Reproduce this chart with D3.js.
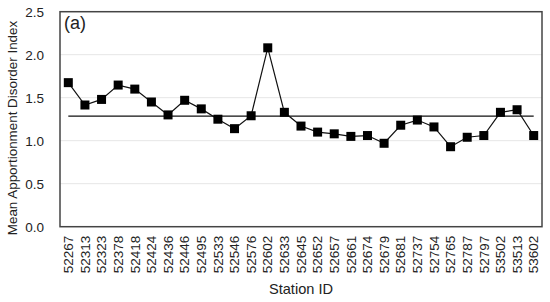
<!DOCTYPE html>
<meta charset="utf-8">
<head>
	<style type="text/css">
		body { margin: 0; background: #fff; }
		text { font-family: "Liberation Sans", Arial, sans-serif; fill: #222; }
	</style>
	<title>Mean Apportionment Disorder Index</title>
</head>

<script src="https://cdn.jsdelivr.net/npm/d3@7"></script>

<svg width="550" height="302" id="svg1"></svg>

<script>
	// station ids along the x axis
	const stations = ['52267','52313','52323','52378','52418','52424','52436','52446','52495','52533',
		'52546','52576','52602','52633','52645','52652','52657','52661','52674','52679',
		'52681','52737','52754','52765','52787','52797','53502','53513','53602'];
	// mean apportionment disorder index per station
	const madi = [1.675,1.415,1.48,1.647,1.60,1.45,1.30,1.47,1.37,1.25,
		1.14,1.29,2.08,1.33,1.17,1.10,1.08,1.05,1.06,0.97,
		1.18,1.24,1.16,0.93,1.04,1.06,1.33,1.36,1.06];
	const yTicks = [0, 0.5, 1.0, 1.5, 2.0, 2.5];

	const svg1 = d3.select('#svg1');
	const plotL = 60, plotR = 542, plotT = 11.7, plotB = 226.7;

	const x = d3.scaleBand().domain(stations).range([plotL, plotR]);
	const y = d3.scaleLinear().domain([0, 2.5]).range([plotB, plotT]);
	const cx = d => x(d) + x.bandwidth() / 2;

	// gridlines
	svg1.append('g')
		.selectAll('line')
		.data(yTicks.filter(t => t > 0 && t < 2.5))
		.enter().append('line')
			.attr('x1', plotL).attr('x2', plotR)
			.attr('y1', d => y(d)).attr('y2', d => y(d))
			.attr('stroke', '#e6e6e6').attr('stroke-width', 1);

	// y axis labels
	const yAxis = svg1.append('g')
		.attr('transform', `translate(${plotL},0)`)
		.call(d3.axisLeft(y).tickValues(yTicks).tickFormat(d3.format('.1f')).tickSize(0).tickPadding(16));
	yAxis.select('.domain').remove();
	yAxis.selectAll('text').style('font-size', '13.5px').attr('fill', '#222');

	// x axis labels, rotated
	const xAxis = svg1.append('g')
		.attr('transform', `translate(0,${plotB})`)
		.call(d3.axisBottom(x).tickSize(0));
	xAxis.select('.domain').remove();
	xAxis.selectAll('text')
		.style('font-size', '13.5px')
		.attr('fill', '#222')
		.attr('transform', 'rotate(-90)')
		.attr('text-anchor', 'end')
		.attr('x', -9)
		.attr('y', 0)
		.attr('dy', '0.35em');

	// mean line
	const mean = d3.mean(madi);
	svg1.append('line')
		.attr('x1', cx(stations[0])).attr('x2', cx(stations[stations.length - 1]))
		.attr('y1', y(mean)).attr('y2', y(mean))
		.attr('stroke', '#111').attr('stroke-width', 1.3);

	// series line + square markers
	const line = d3.line()
		.x((d, i) => cx(stations[i]))
		.y(d => y(d));
	svg1.append('path')
		.datum(madi)
		.attr('d', line)
		.attr('fill', 'none')
		.attr('stroke', '#111')
		.attr('stroke-width', 1.2);

	svg1.append('g')
		.selectAll('rect')
		.data(madi)
		.enter().append('rect')
			.attr('x', (d, i) => cx(stations[i]) - 4.5)
			.attr('y', d => y(d) - 4.5)
			.attr('width', 9).attr('height', 9)
			.attr('fill', '#000');

	// plot frame
	svg1.append('rect')
		.attr('x', plotL).attr('y', plotT)
		.attr('width', plotR - plotL).attr('height', plotB - plotT)
		.attr('fill', 'none')
		.attr('stroke', '#444')
		.attr('stroke-width', 1.5);

	// titles
	svg1.append('text')
		.attr('x', 64).attr('y', 29)
		.style('font-size', '18px')
		.text('(a)');

	svg1.append('text')
		.attr('transform', `translate(17,128) rotate(-90)`)
		.attr('text-anchor', 'middle')
		.style('font-size', '13.4px')
		.text('Mean Apportionment Disorder Index');

	svg1.append('text')
		.attr('x', 301).attr('y', 294)
		.attr('text-anchor', 'middle')
		.style('font-size', '14.6px')
		.text('Station ID');
</script>
